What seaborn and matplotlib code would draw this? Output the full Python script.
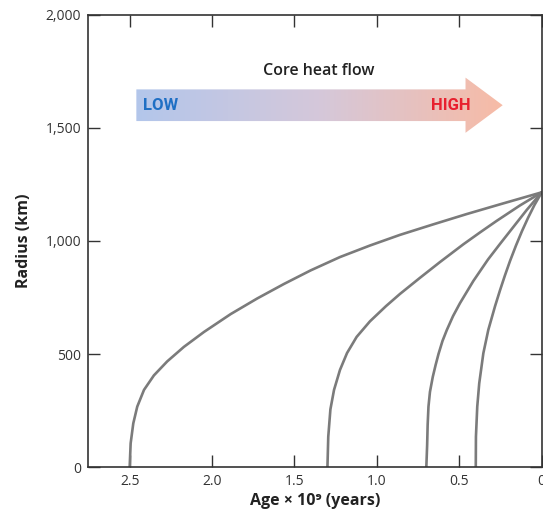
import numpy as np
import pandas as pd
import matplotlib
matplotlib.use("Agg")
import matplotlib.pyplot as plt
from matplotlib.colors import LinearSegmentedColormap
from matplotlib.patches import Polygon
import seaborn as sns

# Inner-core growth curves: radius (km) versus age (Gyr) for four core heat flows
age_low = [2.500, 2.494, 2.478, 2.454, 2.413, 2.353, 2.272, 2.171, 2.049, 1.887,
           1.726, 1.564, 1.402, 1.224, 1.042, 0.860, 0.660, 0.455, 0.253, 0.0]
radius_low = [0, 106, 194, 268, 342, 406, 468, 532, 598, 677,
              746, 810, 870, 929, 980, 1027, 1073, 1119, 1162, 1215]

age_mid_low = [1.300, 1.295, 1.282, 1.260, 1.224, 1.181, 1.123, 1.042, 0.945, 0.860,
               0.739, 0.617, 0.476, 0.374, 0.273, 0.132, 0.0]
radius_mid_low = [0, 135, 256, 342, 430, 505, 576, 645, 712, 766,
                  837, 907, 985, 1038, 1089, 1157, 1215]

age_mid_high = [0.700, 0.695, 0.692, 0.687, 0.678, 0.661, 0.644, 0.626, 0.602, 0.576,
                0.538, 0.496, 0.415, 0.326, 0.253, 0.172, 0.091, 0.0]
radius_mid_high = [0, 99, 187, 268, 333, 399, 451, 501, 558, 606,
                   668, 725, 823, 918, 987, 1062, 1137, 1215]

age_high = [0.400, 0.399, 0.391, 0.379, 0.354, 0.324, 0.283, 0.253, 0.223, 0.192,
            0.156, 0.120, 0.083, 0.044, 0.0]
radius_high = [0, 135, 268, 371, 504, 607, 712, 782, 848, 912,
               980, 1043, 1102, 1159, 1215]

x_ticks = [2.5, 2.0, 1.5, 1.0, 0.5, 0.0]
x_ticklabels = ["2.5", "2.0", "1.5", "1.0", "0.5", "0"]
y_ticks = [0, 500, 1000, 1500, 2000]

frames = []
for name, a, r in [("low", age_low, radius_low),
                   ("mid_low", age_mid_low, radius_mid_low),
                   ("mid_high", age_mid_high, radius_mid_high),
                   ("high", age_high, radius_high)]:
    frames.append(pd.DataFrame({"age": a, "radius": r, "curve": name}))
df = pd.concat(frames, ignore_index=True)

sns.set_theme(style="white")
plt.rcParams["font.family"] = ["Open Sans", "DejaVu Sans"]

fig = plt.figure(figsize=(5.43, 5.14), dpi=100)
ax = fig.add_axes([0.1626, 0.0909, 0.9976 - 0.1626, 0.9714 - 0.0909])

sns.lineplot(data=df, x="age", y="radius", units="curve", estimator=None,
             sort=False, color="#7b7b7b", linewidth=1.9, ax=ax, legend=False)

for s in ax.spines.values():
    s.set_visible(True)
    s.set_color("#333333")
    s.set_linewidth(1.2)

ax.tick_params(axis="both", which="both", direction="in", length=8.5, width=1.0,
               color="#333333", labelsize=10, labelcolor="#333333",
               top=True, right=True, bottom=True, left=True, pad=5)

ax.set_xlabel("Age × 10⁹ (years)", fontsize=11.5, fontweight="bold", color="#222222",
              labelpad=3)
ax.set_ylabel("Radius (km)", fontsize=11.5, fontweight="bold", color="#222222",
              labelpad=10)

# Gradient arrow indicating core heat flow, in axes coordinates
x0, x_head, x_tip = 0.106, 0.832, 0.914
yc, half_body, half_head = 0.800, 0.035, 0.061
arrow = Polygon([(x0, yc - half_body), (x_head, yc - half_body), (x_head, yc - half_head),
                 (x_tip, yc), (x_head, yc + half_head), (x_head, yc + half_body),
                 (x0, yc + half_body)], closed=True, transform=ax.transAxes,
                facecolor="none", edgecolor="none")
ax.add_patch(arrow)
cmap = LinearSegmentedColormap.from_list("heat", ["#b3c6eb", "#d5c8da", "#f7bba6"])
grad = np.linspace(0, 1, 256).reshape(1, -1)
img = ax.imshow(grad, cmap=cmap, aspect="auto", transform=ax.transAxes,
                extent=[x0, x_tip, yc - half_head, yc + half_head], zorder=1)
img.set_clip_path(arrow)

ax.set_xlim(2.751, 0.0)
ax.set_ylim(0, 2000)
ax.set_xticks(x_ticks)
ax.set_xticklabels(x_ticklabels)
ax.set_yticks(y_ticks)
ax.set_yticklabels([f"{v:,.0f}" for v in y_ticks])

ax.text(0.508, 0.876, "Core heat flow", transform=ax.transAxes, ha="center",
        va="center", fontsize=11.5, fontweight="semibold", color="#222222")
ax.text(0.159, 0.799, "LOW", transform=ax.transAxes, ha="center", va="center",
        fontsize=12, fontweight="bold", color="#1f6fc4",
        family=["Roboto", "DejaVu Sans"])
ax.text(0.800, 0.799, "HIGH", transform=ax.transAxes, ha="center", va="center",
        fontsize=12, fontweight="bold", color="#e8202e",
        family=["Roboto", "DejaVu Sans"])

fig.savefig("out.png", dpi=100)
